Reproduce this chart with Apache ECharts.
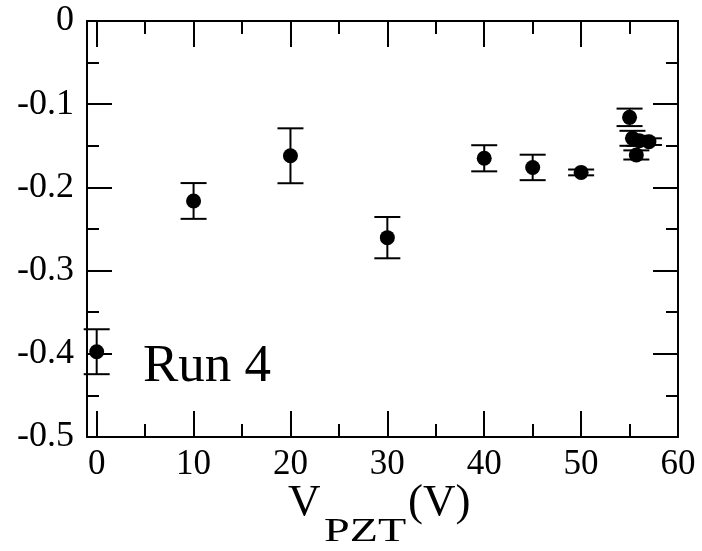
<!DOCTYPE html>
<html>
<head>
<meta charset="utf-8">
<script src="https://cdn.jsdelivr.net/npm/echarts@6/dist/echarts.min.js"></script>
<style>
html,body{margin:0;padding:0;background:#fff;}
#chart{width:702px;height:551px;}
</style>
</head>
<body>
<div id="chart"></div>
<script>
// Data
const xValues = [0, 10, 20, 30, 40, 45, 50, 55, 55.3, 56, 57, 55.7];
const yValues = [-0.3975, -0.2163, -0.162, -0.2604, -0.165, -0.176, -0.182, -0.1158, -0.141, -0.144, -0.145, -0.161];
const yErrors = [0.027, 0.0215, 0.033, 0.0248, 0.0157, 0.0153, 0.0035, 0.0105, 0.009, 0.006, 0.004, 0.0055];
const xMajorTicks = [0, 10, 20, 30, 40, 50, 60];
const xMinorTicks = [5, 15, 25, 35, 45, 55];
const yTickLabels = ['-0.5', '-0.4', '-0.3', '-0.2', '-0.1', '0'];
const annotation = 'Run 4';

const FONT = 'Liberation Serif';
const points = xValues.map((x, i) => [x, yValues[i], yErrors[i]]);

function errRender(params, api) {
  const x = api.value(0), y = api.value(1), e = api.value(2);
  const t = api.coord([x, y + e]);
  const b = api.coord([x, y - e]);
  const hw = 13;
  const st = {stroke: '#000', lineWidth: 2};
  return {type: 'group', children: [
    {type: 'line', shape: {x1: t[0], y1: t[1], x2: b[0], y2: b[1]}, style: st},
    {type: 'line', shape: {x1: t[0] - hw, y1: t[1], x2: t[0] + hw, y2: t[1]}, style: st},
    {type: 'line', shape: {x1: b[0] - hw, y1: b[1], x2: b[0] + hw, y2: b[1]}, style: st}
  ]};
}

const lineStyle = {color: '#000', width: 2};
function xAx(pos, ticks, len, labels, showLine) {
  return {
    type: 'value', position: pos, min: -1, max: 60,
    axisLine: {show: showLine, onZero: false, lineStyle: lineStyle},
    axisTick: {show: true, inside: true, length: len, customValues: ticks, lineStyle: lineStyle},
    axisLabel: labels ? {show: true, customValues: xMajorTicks, color: '#000', fontFamily: FONT, fontSize: 35, margin: 10} : {show: false},
    splitLine: {show: false}
  };
}
function yAx(pos, labels) {
  return {
    type: 'value', position: pos, min: -0.5, max: 0, interval: 0.1,
    axisLine: {show: true, onZero: false, lineStyle: lineStyle},
    axisTick: {show: true, inside: true, length: 25, lineStyle: lineStyle},
    minorTick: {show: true, splitNumber: 2, length: 12, lineStyle: lineStyle},
    axisLabel: labels ? {show: true, color: '#000', fontFamily: FONT, fontSize: 36, margin: 13,
      formatter: v => yTickLabels[Math.round((v + 0.5) * 10)]} : {show: false},
    splitLine: {show: false}
  };
}

const chart = echarts.init(document.getElementById('chart'), null, {renderer: 'canvas'});
chart.setOption({
  animation: false,
  backgroundColor: '#fff',
  grid: {left: 87, top: 21, right: 24, bottom: 114, containLabel: false},
  xAxis: [
    xAx('bottom', xMajorTicks, 26, true, true),
    xAx('bottom', xMinorTicks, 13, false, false),
    xAx('top', xMajorTicks, 26, false, true),
    xAx('top', xMinorTicks, 13, false, false)
  ],
  yAxis: [yAx('left', true), yAx('right', false)],
  graphic: [
    {type: 'text', left: 143, top: 367 - 26, style: {text: annotation, fontFamily: FONT, fontSize: 53, fill: '#000'}},
    {type: 'text', x: 288, y: 503, style: {text: 'V', fontFamily: FONT, fontSize: 45, fill: '#000', verticalAlign: 'middle', align: 'left'}},
    {type: 'text', x: 324, y: 532, scaleX: 1.4, style: {text: 'PZT', fontFamily: FONT, fontSize: 33, fill: '#000', verticalAlign: 'middle', align: 'left'}},
    {type: 'text', x: 408, y: 503, style: {text: '(V)', fontFamily: FONT, fontSize: 45, fill: '#000', verticalAlign: 'middle', align: 'left'}}
  ],
  series: [
    {type: 'custom', xAxisIndex: 0, yAxisIndex: 0, renderItem: errRender, data: points, z: 2, clip: false},
    {type: 'scatter', xAxisIndex: 0, yAxisIndex: 0, symbol: 'circle', symbolSize: 15,
     itemStyle: {color: '#000', opacity: 1}, data: points.map(p => [p[0], p[1]]), z: 3}
  ]
});
</script>
</body>
</html>
